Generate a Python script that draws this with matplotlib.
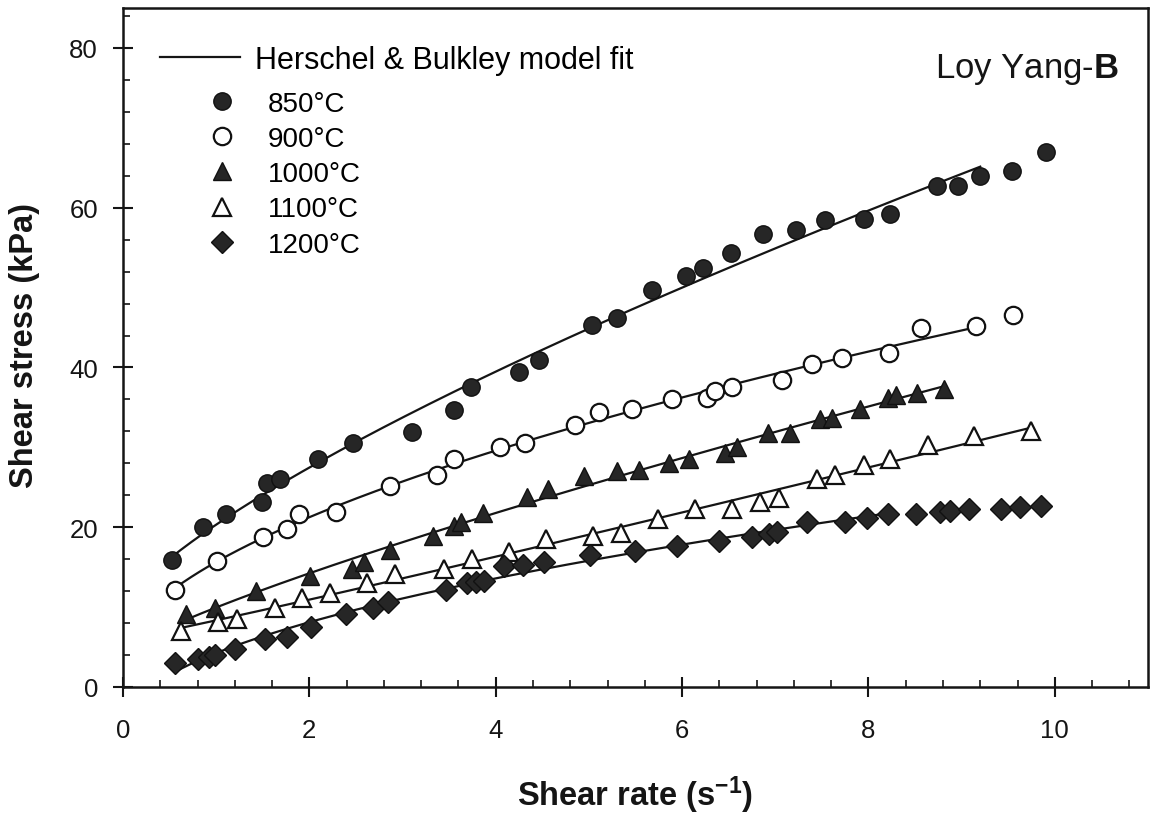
import numpy as np
import matplotlib
matplotlib.use("Agg")
import matplotlib.pyplot as plt
from matplotlib.lines import Line2D
from matplotlib.ticker import MultipleLocator

plt.rcParams["font.family"] = ["Liberation Sans", "DejaVu Sans"]
plt.rcParams["mathtext.fontset"] = "custom"
plt.rcParams["mathtext.rm"] = "Liberation Sans"
plt.rcParams["mathtext.it"] = "Liberation Sans:italic"
plt.rcParams["mathtext.bf"] = "Liberation Sans:bold"

# ---- measured flow curves: shear rate (1/s) vs shear stress (kPa) ----
rate_850 = [0.53, 0.86, 1.11, 1.49, 1.55, 1.68, 2.09, 2.47, 3.10, 3.55, 3.73,
            4.25, 4.46, 5.03, 5.30, 5.68, 6.04, 6.22, 6.52, 6.87, 7.22, 7.53,
            7.95, 8.23, 8.74, 8.96, 9.20, 9.54, 9.91]
stress_850 = [15.9, 20.0, 21.6, 23.2, 25.5, 26.1, 28.5, 30.6, 31.9, 34.7, 37.5,
              39.4, 40.9, 45.3, 46.2, 49.7, 51.4, 52.5, 54.3, 56.7, 57.2, 58.5,
              58.6, 59.2, 62.7, 62.75, 64.0, 64.6, 67.0]

rate_900 = [0.56, 1.01, 1.50, 1.76, 1.89, 2.29, 2.87, 3.37, 3.55, 4.05, 4.31,
            4.85, 5.11, 5.46, 5.89, 6.27, 6.35, 6.54, 7.07, 7.39, 7.72, 8.22,
            8.56, 9.15, 9.55]
stress_900 = [12.2, 15.8, 18.8, 19.8, 21.6, 21.9, 25.2, 26.5, 28.6, 30.0, 30.5,
              32.8, 34.4, 34.75, 36.1, 36.2, 37.1, 37.5, 38.4, 40.4, 41.2, 41.8,
              44.9, 45.25, 46.6]

rate_1000 = [0.68, 0.99, 1.43, 2.01, 2.46, 2.59, 2.87, 3.33, 3.55, 3.63, 3.86,
             4.34, 4.56, 4.95, 5.30, 5.54, 5.86, 6.07, 6.46, 6.59, 6.92, 7.16,
             7.48, 7.61, 7.91, 8.21, 8.30, 8.52, 8.81]
stress_1000 = [9.1, 9.95, 12.0, 13.9, 14.8, 15.7, 17.2, 18.9, 20.2, 20.65, 21.8,
               23.8, 24.75, 26.4, 27.0, 27.2, 28.1, 28.6, 29.3, 30.1, 31.8, 31.8,
               33.5, 33.65, 34.75, 36.2, 36.5, 36.75, 37.3]

rate_1100 = [0.62, 1.02, 1.22, 1.63, 1.92, 2.22, 2.62, 2.92, 3.44, 3.74, 4.14,
             4.54, 5.04, 5.34, 5.74, 6.14, 6.54, 6.84, 7.04, 7.45, 7.64, 7.95,
             8.23, 8.64, 9.13, 9.74]
stress_1100 = [7.0, 8.1, 8.5, 9.95, 11.2, 11.8, 13.0, 14.1, 14.75, 16.0, 16.9,
               18.55, 18.9, 19.3, 21.0, 22.25, 22.25, 23.1, 23.7, 26.0, 26.6, 27.75,
               28.6, 30.25, 31.4, 32.0]

rate_1200 = [0.56, 0.80, 0.92, 0.99, 1.20, 1.52, 1.76, 2.02, 2.39, 2.68, 2.84,
             3.47, 3.69, 3.79, 3.87, 4.09, 4.29, 4.52, 5.01, 5.49, 5.95, 6.40,
             6.75, 6.93, 7.02, 7.34, 7.75, 7.98, 8.21, 8.51, 8.77, 8.88, 9.08,
             9.42, 9.63, 9.85]
stress_1200 = [3.0, 3.5, 3.8, 4.0, 4.7, 6.0, 6.2, 7.5, 9.1, 9.95, 10.6,
               12.1, 13.0, 13.1, 13.3, 15.1, 15.25, 15.6, 16.5, 17.0, 17.7, 18.3,
               18.8, 19.1, 19.4, 20.6, 20.7, 21.2, 21.6, 21.6, 21.9, 22.0, 22.25,
               22.3, 22.5, 22.7]

temperatures = ["850°C", "900°C", "1000°C", "1100°C", "1200°C"]
rates = [rate_850, rate_900, rate_1000, rate_1100, rate_1200]
stresses = [stress_850, stress_900, stress_1000, stress_1100, stress_1200]
# upper shear rate of the range used for each model fit
fit_upper = [9.20, 9.15, 8.81, 9.74, 8.23]

x_ticks = [0, 2, 4, 6, 8, 10]
y_ticks = [0, 20, 40, 60, 80]


def herschel_bulkley_fit(x, y):
    """tau = tau0 + K * rate**n, least squares over n with linear solve for tau0, K."""
    best = None
    for n in np.linspace(0.2, 1.6, 1401):
        A = np.column_stack([np.ones_like(x), x ** n])
        coef, *_ = np.linalg.lstsq(A, y, rcond=None)
        res = np.sum((A @ coef - y) ** 2)
        if best is None or res < best[0]:
            best = (res, coef[0], coef[1], n)
    return best[1:]


dark = "#262626"
ink = "#151515"
styles = [
    dict(marker="o", ms=12.5, mfc=dark, mec="#111111", mew=1.0),
    dict(marker="o", ms=12.5, mfc="white", mec="#111111", mew=1.6),
    dict(marker="^", ms=13.5, mfc=dark, mec="#111111", mew=1.0),
    dict(marker="^", ms=13.5, mfc="white", mec="#111111", mew=1.6),
    dict(marker="D", ms=11.0, mfc=dark, mec="#111111", mew=1.0),
]

fig = plt.figure(figsize=(11.51, 8.2), dpi=100)
ax = fig.add_axes([123 / 1151, 1 - 688 / 820, 1025 / 1151, 679 / 820])

for xs, ys, upper, st in zip(rates, stresses, fit_upper, styles):
    xs = np.asarray(xs)
    ys = np.asarray(ys)
    used = xs <= upper + 1e-9
    tau0, K, n = herschel_bulkley_fit(xs[used], ys[used])
    xf = np.linspace(xs.min(), upper, 300)
    ax.plot(xf, tau0 + K * xf ** n, color=ink, lw=1.6, zorder=2)
    ax.plot(xs, ys, ls="none", zorder=3, **st)

ax.set_xlim(0, 11)
ax.set_ylim(0, 85)
ax.set_xticks(x_ticks)
ax.set_yticks(y_ticks)
ax.xaxis.set_minor_locator(MultipleLocator(0.4))
ax.yaxis.set_minor_locator(MultipleLocator(4))
ax.tick_params(which="major", direction="inout", length=14, width=1.5,
               labelsize=18.5, colors=ink)
ax.tick_params(axis="x", which="major", pad=15)
ax.tick_params(axis="y", which="major", pad=11)
ax.tick_params(which="minor", direction="in", length=5, width=1.2, colors=ink)
for sp in ax.spines.values():
    sp.set_linewidth(1.8)
    sp.set_color(ink)

ax.set_xlabel("Shear rate (s$^{\\mathbf{-1}}$)", fontsize=23.5, fontweight="bold",
              color=ink)
ax.xaxis.set_label_coords(0.5, -0.128)
ax.set_ylabel("Shear stress (kPa)", fontsize=23.5, fontweight="bold", color=ink)
ax.yaxis.set_label_coords(-0.081, 0.505)

leg1 = ax.legend(handles=[Line2D([], [], color=ink, lw=1.6)],
                 labels=["Herschel & Bulkley model fit"],
                 loc="upper left", bbox_to_anchor=(0.036, 0.946),
                 frameon=False, fontsize=22, handlelength=2.62,
                 handletextpad=0.49, borderpad=0, borderaxespad=0)
ax.add_artist(leg1)

marker_handles = [Line2D([], [], ls="none", **st) for st in styles]
ax.legend(handles=marker_handles, labels=temperatures,
          loc="upper left", bbox_to_anchor=(0.079, 0.878),
          frameon=False, fontsize=20, handlelength=1.3,
          handletextpad=1.0, labelspacing=0.33, borderpad=0,
          borderaxespad=0)

ax.text(0.972, 0.898, "Loy Yang-$\\mathbf{B}$", transform=ax.transAxes,
        ha="right", va="baseline", fontsize=25, color=ink)

fig.savefig("out.png", dpi=100, facecolor="white")
